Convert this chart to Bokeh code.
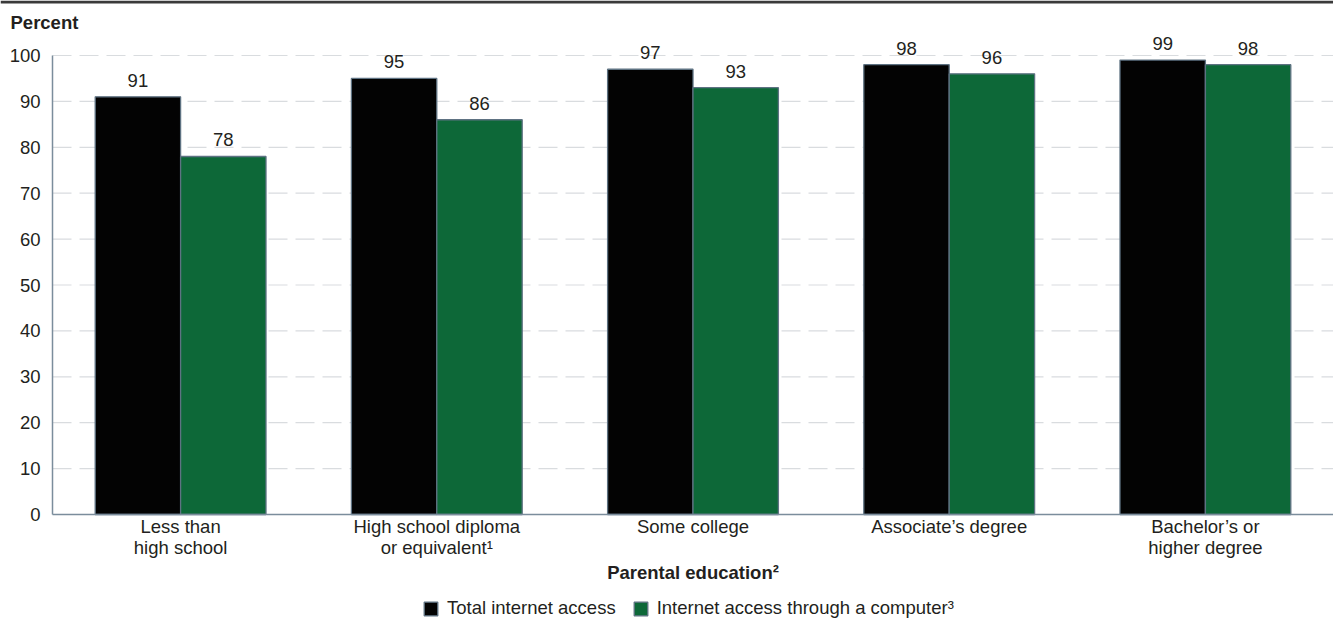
import numpy as np
from bokeh.plotting import figure
from bokeh.models import (ColumnDataSource, Range1d, LinearAxis, FixedTicker,
                          Span, Label, Legend, LegendItem)
from bokeh.core.properties import value
from bokeh.transform import dodge
from bokeh.embed import file_html
from bokeh.resources import INLINE

# ---- data -----------------------------------------------------------------
categories = [
    "Less than\nhigh school",
    "High school diploma\nor equivalent\u00b9",
    "Some college",
    "Associate\u2019s degree",
    "Bachelor\u2019s or\nhigher degree",
]
total_access = [91, 95, 97, 98, 99]
computer_access = [78, 86, 93, 96, 98]
series_names = ["Total internet access", "Internet access through a computer\u00b3"]
y_ticks = list(range(0, 101, 10))
x_title = "Parental education\u00b2"
y_title = "Percent"

# ---- layout constants (pixels) -------------------------------------------
W, H = 1333, 626
AXIS_PX = 52      # left edge of the value axis
ZERO_PX = 514     # baseline
HUNDRED_PX = 55   # 100 % line

FONT = "Liberation Sans"
FS = "18.5px"
TXT = "#231f20"
AXIS_COLOR = "#7b8d9c"
BAR_LINE = "#5e7282"
GREEN = "#0d6838"
BLACK = "#030303"

n = len(categories)
px_per_group = (W - AXIS_PX) / n
px_per_unit = (ZERO_PX - HUNDRED_PX) / 100.0
x_start = -AXIS_PX / px_per_group
y_end = 100 + HUNDRED_PX / px_per_unit
y_start = -(H - ZERO_PX) / px_per_unit


def xs(px):
    return x_start + px / px_per_group


def ys(py):
    return y_end - py / px_per_unit


group_x = np.arange(n) + 0.5
src = ColumnDataSource(dict(
    x=group_x,
    cat=categories,
    total=total_access,
    computer=computer_access,
    total_lbl=[str(v) for v in total_access],
    computer_lbl=[str(v) for v in computer_access],
))

p = figure(width=W, height=H, x_range=Range1d(x_start, n), y_range=Range1d(y_start, y_end),
           x_axis_location=None, y_axis_location=None, toolbar_location=None,
           output_backend="svg", min_border=0)
p.outline_line_color = None
p.xgrid.visible = False
p.ygrid.visible = False

# dashed gridlines from the value axis to the right edge
grid_vals = y_ticks[1:]
p.segment(x0=[0] * len(grid_vals), x1=[n] * len(grid_vals), y0=grid_vals, y1=grid_vals,
          line_color="#d9dcdf", line_width=1.2, line_dash="19 8")

bar_w = 1 / 3
r_total = p.vbar(x=dodge("x", -bar_w / 2, range=p.x_range), top="total", width=bar_w,
                 bottom=0, source=src, fill_color=BLACK, line_color=BAR_LINE, line_width=1.3)
r_comp = p.vbar(x=dodge("x", bar_w / 2, range=p.x_range), top="computer", width=bar_w,
                bottom=0, source=src, fill_color=GREEN, line_color=BAR_LINE, line_width=1.3)

label_kw = dict(text_align="center", text_baseline="bottom", y_offset=-10,
                text_font=value(FONT), text_font_size=value(FS), text_color=TXT, source=src)
p.text(x=dodge("x", -bar_w / 2, range=p.x_range), y="total", text="total_lbl", **label_kw)
p.text(x=dodge("x", bar_w / 2, range=p.x_range), y="computer", text="computer_lbl", **label_kw)

# value axis
yaxis = LinearAxis(fixed_location=0, bounds=(0, 100), ticker=FixedTicker(ticks=y_ticks),
                   major_tick_line_color=None, minor_tick_line_color=None,
                   axis_line_color=AXIS_COLOR, axis_line_width=1.5,
                   major_label_standoff=6, major_label_text_font=FONT,
                   major_label_text_font_size=FS, major_label_text_color=TXT)
p.add_layout(yaxis, "left")

# category axis line; its labels are drawn below with a tighter line height
xaxis = LinearAxis(fixed_location=0, bounds=(0, n), ticker=FixedTicker(ticks=[]),
                   major_tick_line_color=None, minor_tick_line_color=None,
                   axis_line_color=AXIS_COLOR, axis_line_width=1.5)
p.add_layout(xaxis, "below")

p.text(x="x", y=0, text="cat", source=src, text_align="center", text_baseline="top",
       y_offset=1, text_line_height=1.0, text_font=value(FONT),
       text_font_size=value(FS), text_color=TXT)

p.add_layout(Label(x=n / 2, y=ys(572), text=x_title, text_align="center",
                   text_baseline="middle", text_font=FONT, text_font_size=FS,
                   text_font_style="bold", text_color=TXT))

# rule across the top and the unit caption
p.add_layout(Span(location=ys(1.5), dimension="width", line_color="#3a3a3a", line_width=3))
p.add_layout(Label(x=xs(10), y=ys(22), text=y_title, text_baseline="middle",
                   text_font=FONT, text_font_size=FS, text_font_style="bold",
                   text_color=TXT))

legend = Legend(items=[LegendItem(label=series_names[0], renderers=[r_total]),
                       LegendItem(label=series_names[1], renderers=[r_comp])],
                orientation="horizontal", location=(422, 7),
                glyph_width=17, glyph_height=17, label_standoff=8, spacing=16,
                padding=0, margin=0, border_line_color=None, background_fill_alpha=0,
                label_text_font=FONT, label_text_font_size=FS, label_text_color=TXT,
                label_height=17)
p.add_layout(legend)

open("out.html", "w").write(file_html(p, INLINE))
